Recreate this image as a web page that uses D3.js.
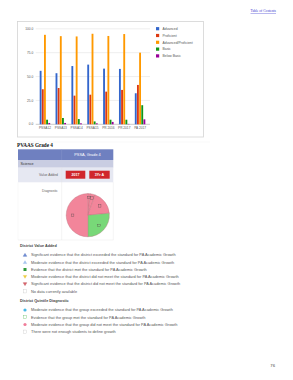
<!DOCTYPE html>
<html>
<head>
<meta charset="utf-8">
<script src="https://cdn.jsdelivr.net/npm/d3@7"></script>
<style>
  html, body { margin: 0; padding: 0; background: #fff; }
  svg { display: block; }
</style>
</head>
<body>
<div id="page"></div>
<script>
// Chart data
const categories = ['PSSA12', 'PSSA13', 'PSSA14', 'PSSA15', 'PR 2016', 'PR 2017', 'PA 2017'];
const seriesNames = ['Advanced', 'Proficient', 'Advanced/Proficient', 'Basic', 'Below Basic'];
const advanced = [56, 53.5, 61, 62.5, 58.3, 58, 32.5];
const proficient = [36.7, 38, 30, 31, 34.2, 36, 41.2];
const advProf = [93.7, 92.3, 92, 94.8, 92.5, 94.5, 75];
const basic = [4.8, 6.6, 5.5, 3, 4.8, 4.8, 20];
const belowBasic = [1.4, 1.4, 1, 1, 2.5, 0.4, 5.2];
const yTicks = [0, 25, 50, 75, 100];
const seriesColors = ['#3366cc', '#dc3912', '#ff9900', '#109618', '#990099'];

// Diagnostic pie slices (clockwise from top)
const pieValues = [2, 3.5, 18, 26.5, 50];
const pieColors = ['#f2859a', '#f2859a', '#f2859a', '#78d878', '#f2859a'];

const valueAddedItems = [
  'Significant evidence that the district exceeded the standard for PA Academic Growth',
  'Moderate evidence that the district exceeded the standard for PA Academic Growth',
  'Evidence that the district met the standard for PA Academic Growth',
  'Moderate evidence that the district did not meet the standard for PA Academic Growth',
  'Significant evidence that the district did not meet the standard for PA Academic Growth',
  'No data currently available'
];
const quintileItems = [
  'Moderate evidence that the group exceeded the standard for PA Academic Growth',
  'Evidence that the group met the standard for PA Academic Growth',
  'Moderate evidence that the group did not meet the standard for PA Academic Growth',
  'There were not enough students to define growth'
];

const width = 293;
const height = 380;
const sans = 'Liberation Sans, Arial, sans-serif';
const serif = 'Liberation Serif, Times New Roman, serif';

const svg = d3.select('#page')
    .append('svg')
    .attr('width', width)
    .attr('height', height);

svg.append('rect').attr('width', width).attr('height', height).attr('fill', '#fff');

// Table of Contents link
svg.append('text')
    .attr('x', 276).attr('y', 12)
    .attr('text-anchor', 'end')
    .style('font-family', serif)
    .style('font-size', '3.6px')
    .style('fill', '#3a3ad0')
    .style('text-decoration', 'underline')
    .text('Table of Contents');

// ---- Bar chart ----
svg.append('rect')
    .attr('x', 17.5).attr('y', 21.5).attr('width', 186).attr('height', 115.5)
    .attr('fill', '#fff').attr('stroke', '#d4d4d4').attr('stroke-width', 0.8);

const y = d3.scaleLinear().domain([0, 100]).range([124.3, 28.8]);
const x0 = d3.scaleBand().domain(categories).range([37, 148]).paddingInner(0.32).paddingOuter(0.16);
const x1 = d3.scaleBand().domain(seriesNames).range([0, x0.bandwidth()]);

const grid = svg.append('g');
yTicks.forEach(t => {
  grid.append('line')
      .attr('x1', 35.7).attr('x2', 150)
      .attr('y1', y(t)).attr('y2', y(t))
      .attr('stroke', t === 0 ? '#999' : '#dedede')
      .attr('stroke-width', 0.5);
  grid.append('text')
      .attr('x', 33.3).attr('y', y(t) + 1.1)
      .attr('text-anchor', 'end')
      .style('font-family', sans)
      .style('font-size', '3.2px')
      .style('fill', '#555')
      .text(t.toFixed(1));
});

const allSeries = [advanced, proficient, advProf, basic, belowBasic];
const groups = svg.append('g').selectAll('g')
    .data(categories)
    .join('g')
    .attr('transform', d => `translate(${x0(d)},0)`);

groups.selectAll('rect')
    .data((d, i) => seriesNames.map((s, j) => ({ s, j, v: allSeries[j][i] })))
    .join('rect')
    .attr('x', d => x1(d.s) + 0.15)
    .attr('width', x1.bandwidth() - 0.3)
    .attr('y', d => y(d.v))
    .attr('height', d => y(0) - y(d.v))
    .attr('fill', d => seriesColors[d.j]);

svg.append('g').selectAll('text')
    .data(categories)
    .join('text')
    .attr('x', d => x0(d) + x0.bandwidth() / 2)
    .attr('y', 129.2)
    .attr('text-anchor', 'middle')
    .style('font-family', sans)
    .style('font-size', '3.2px')
    .style('fill', '#555')
    .text(d => d);

const legend = svg.append('g').selectAll('g')
    .data(seriesNames)
    .join('g')
    .attr('transform', (d, i) => `translate(156,${28.7 + i * 6.8})`);
legend.append('rect')
    .attr('x', 0).attr('y', -1.6).attr('width', 3.2).attr('height', 3.2)
    .attr('fill', (d, i) => seriesColors[i]);
legend.append('text')
    .attr('x', 6.5).attr('y', 1.2)
    .style('font-family', sans)
    .style('font-size', '3.4px')
    .style('fill', '#555')
    .text(d => d);

svg.append('line')
    .attr('x1', 17).attr('x2', 210).attr('y1', 142).attr('y2', 142)
    .attr('stroke', '#f0f0f0').attr('stroke-width', 0.5);

// ---- PVAAS table ----
svg.append('text')
    .attr('x', 17).attr('y', 147.3)
    .style('font-family', serif)
    .style('font-weight', 'bold')
    .style('font-size', '5.2px')
    .style('fill', '#111')
    .text('PVAAS Grade 4');

const tLeft = 18, tMid = 61.7, tRight = 113.3;
svg.append('rect').attr('x', tLeft).attr('y', 149.3).attr('width', tRight - tLeft).attr('height', 10.7).attr('fill', '#6f80c0');
svg.append('rect').attr('x', tLeft).attr('y', 160).attr('width', tRight - tLeft).attr('height', 7.7).attr('fill', '#c9cde2');
svg.append('rect').attr('x', tLeft).attr('y', 167.7).attr('width', tRight - tLeft).attr('height', 14.6).attr('fill', '#e6e8f2');
svg.append('line').attr('x1', tMid).attr('x2', tMid).attr('y1', 149.3).attr('y2', 160).attr('stroke', '#8d9bd0').attr('stroke-width', 0.4);
svg.append('line').attr('x1', tMid).attr('x2', tMid).attr('y1', 167.7).attr('y2', 240).attr('stroke', '#e2e2e2').attr('stroke-width', 0.4);
svg.append('line').attr('x1', tRight).attr('x2', tRight).attr('y1', 182.3).attr('y2', 240).attr('stroke', '#e2e2e2').attr('stroke-width', 0.4);
svg.append('line').attr('x1', tLeft).attr('x2', tLeft).attr('y1', 182.3).attr('y2', 240).attr('stroke', '#eeeeee').attr('stroke-width', 0.4);
svg.append('line').attr('x1', tLeft).attr('x2', tRight).attr('y1', 240).attr('y2', 240).attr('stroke', '#e2e2e2').attr('stroke-width', 0.4);

svg.append('text')
    .attr('x', (tMid + tRight) / 2).attr('y', 156)
    .attr('text-anchor', 'middle')
    .style('font-family', sans).style('font-size', '3.9px').style('fill', '#fff')
    .text('PSSA, Grade 4');
svg.append('text')
    .attr('x', 20.5).attr('y', 165.3)
    .style('font-family', sans).style('font-size', '3.7px').style('fill', '#333')
    .text('Science');
svg.append('text')
    .attr('x', 58).attr('y', 175.6)
    .attr('text-anchor', 'end')
    .style('font-family', sans).style('font-size', '3.4px').style('fill', '#666')
    .text('Value Added');
svg.append('text')
    .attr('x', 57.8).attr('y', 191.6)
    .attr('text-anchor', 'end')
    .style('font-family', sans).style('font-size', '3.4px').style('fill', '#666')
    .text('Diagnostic');

const badges = [{ label: '2017', x: 65.7, w: 19.6 }, { label: '3Yr A', x: 89.3, w: 20.4 }];
badges.forEach(b => {
  svg.append('rect').attr('x', b.x).attr('y', 170.7).attr('width', b.w).attr('height', 8).attr('fill', '#d0262c');
  svg.append('text')
      .attr('x', b.x + b.w / 2).attr('y', 176)
      .attr('text-anchor', 'middle')
      .style('font-family', sans).style('font-size', '3.6px').style('font-weight', 'bold').style('fill', '#fff')
      .text(b.label);
});

// Pie
const pieR = 21.6;
const pieG = svg.append('g').attr('transform', 'translate(87.8,215.2)');
const arcs = d3.pie().sort(null)(pieValues);
const arc = d3.arc().innerRadius(0).outerRadius(pieR);
pieG.selectAll('path')
    .data(arcs)
    .join('path')
    .attr('d', arc)
    .attr('fill', (d, i) => pieColors[i])
    .attr('stroke', '#b56a77')
    .attr('stroke-width', 0.35);
const markArc = d3.arc().innerRadius(pieR * 0.7).outerRadius(pieR * 0.7);
const markArcOuter = d3.arc().innerRadius(pieR * 0.82).outerRadius(pieR * 0.82);
pieG.selectAll('rect.mark')
    .data(arcs)
    .join('rect')
    .attr('class', 'mark')
    .attr('x', (d, i) => (i < 2 ? markArcOuter : markArc).centroid(d)[0] - 1.2)
    .attr('y', (d, i) => (i < 2 ? markArcOuter : markArc).centroid(d)[1] - 1.2)
    .attr('width', 2.4).attr('height', 2.4)
    .attr('fill', 'none')
    .attr('stroke', '#5a4a4e')
    .attr('stroke-width', 0.35);

// ---- Legends ----
function heading(text, yy) {
  svg.append('text')
      .attr('x', 20).attr('y', yy)
      .style('font-family', sans).style('font-size', '3.8px').style('font-weight', 'bold').style('fill', '#444')
      .text(text);
}
function items(list, y0, drawIcon) {
  list.forEach((t, i) => {
    const yy = y0 + i * 7.25;
    drawIcon(i, 25, yy);
    svg.append('text')
        .attr('x', 31).attr('y', yy + 1.3)
        .style('font-family', sans).style('font-size', '3.9px').style('fill', '#555')
        .text(t);
  });
}
const tri = (cx, cy, up) => up
    ? `M${cx},${cy - 1.6}L${cx + 1.7},${cy + 1.3}L${cx - 1.7},${cy + 1.3}Z`
    : `M${cx - 1.7},${cy - 1.3}L${cx + 1.7},${cy - 1.3}L${cx},${cy + 1.6}Z`;

heading('District Value Added', 247.3);
items(valueAddedItems, 255, (i, cx, cy) => {
  if (i === 0) svg.append('path').attr('d', tri(cx, cy, true)).attr('fill', '#7c9be0').attr('stroke', '#2d4fa8').attr('stroke-width', 0.4);
  if (i === 1) svg.append('path').attr('d', tri(cx, cy, true)).attr('fill', '#a9c8f2').attr('stroke', '#7ea6e0').attr('stroke-width', 0.3);
  if (i === 2) svg.append('rect').attr('x', cx - 1.5).attr('y', cy - 1.5).attr('width', 3).attr('height', 3).attr('fill', '#2f9a3a');
  if (i === 3) svg.append('path').attr('d', tri(cx, cy, false)).attr('fill', '#f2d23a').attr('stroke', '#d8b420').attr('stroke-width', 0.3);
  if (i === 4) svg.append('path').attr('d', tri(cx, cy, false)).attr('fill', '#e0707a').attr('stroke', '#b3282f').attr('stroke-width', 0.4);
  if (i === 5) svg.append('rect').attr('x', cx - 1.7).attr('y', cy - 1.7).attr('width', 3.4).attr('height', 3.4).attr('fill', '#fff').attr('stroke', '#bbb').attr('stroke-width', 0.3);
});

heading('District Quintile Diagnostic', 302);
items(quintileItems, 310, (i, cx, cy) => {
  if (i === 0) svg.append('circle').attr('cx', cx).attr('cy', cy).attr('r', 1.6).attr('fill', '#47b9e6');
  if (i === 1) svg.append('rect').attr('x', cx - 1.5).attr('y', cy - 1.5).attr('width', 3).attr('height', 3).attr('fill', '#fff').attr('stroke', '#6cc46c').attr('stroke-width', 0.4);
  if (i === 2) svg.append('circle').attr('cx', cx).attr('cy', cy).attr('r', 1.6).attr('fill', '#f07d9a');
  if (i === 3) svg.append('rect').attr('x', cx - 1.7).attr('y', cy - 1.7).attr('width', 3.4).attr('height', 3.4).attr('fill', '#fff').attr('stroke', '#bbb').attr('stroke-width', 0.3);
});

// Page number
svg.append('text')
    .attr('x', 275).attr('y', 367)
    .attr('text-anchor', 'end')
    .style('font-family', sans).style('font-size', '4.2px').style('fill', '#444')
    .text('76');
</script>
</body>
</html>
